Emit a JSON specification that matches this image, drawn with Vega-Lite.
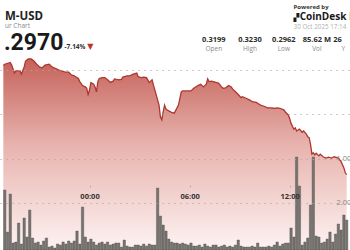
{
  "$schema": "https://vega.github.io/schema/vega-lite/v6.json",
  "width": 350,
  "height": 250,
  "autosize": {"type": "fit", "contains": "padding"},
  "padding": 0,
  "background": "white",
  "config": {"view": {"stroke": null}, "font": "Open Sans", "text": {"font": "Open Sans"}},
  "datasets": {
    "price": [
      {"time": "2025-10-29T18:50:00Z", "price": 0.3210},
      {"time": "2025-10-29T18:55:00Z", "price": 0.3213},
      {"time": "2025-10-29T19:15:00Z", "price": 0.3217},
      {"time": "2025-10-29T19:20:00Z", "price": 0.3211},
      {"time": "2025-10-29T19:30:00Z", "price": 0.3193},
      {"time": "2025-10-29T19:35:00Z", "price": 0.3198},
      {"time": "2025-10-29T19:50:00Z", "price": 0.3198},
      {"time": "2025-10-29T19:55:00Z", "price": 0.3191},
      {"time": "2025-10-29T20:05:00Z", "price": 0.3207},
      {"time": "2025-10-29T20:10:00Z", "price": 0.3220},
      {"time": "2025-10-29T20:20:00Z", "price": 0.3225},
      {"time": "2025-10-29T20:30:00Z", "price": 0.3225},
      {"time": "2025-10-29T20:40:00Z", "price": 0.3220},
      {"time": "2025-10-29T20:50:00Z", "price": 0.3213},
      {"time": "2025-10-29T21:00:00Z", "price": 0.3207},
      {"time": "2025-10-29T21:10:00Z", "price": 0.3205},
      {"time": "2025-10-29T21:20:00Z", "price": 0.3211},
      {"time": "2025-10-29T21:35:00Z", "price": 0.3213},
      {"time": "2025-10-29T21:45:00Z", "price": 0.3207},
      {"time": "2025-10-29T21:55:00Z", "price": 0.3204},
      {"time": "2025-10-29T22:10:00Z", "price": 0.3200},
      {"time": "2025-10-29T22:20:00Z", "price": 0.3198},
      {"time": "2025-10-29T22:30:00Z", "price": 0.3196},
      {"time": "2025-10-29T22:45:00Z", "price": 0.3195},
      {"time": "2025-10-29T22:55:00Z", "price": 0.3189},
      {"time": "2025-10-29T23:05:00Z", "price": 0.3187},
      {"time": "2025-10-29T23:20:00Z", "price": 0.3181},
      {"time": "2025-10-29T23:25:00Z", "price": 0.3174},
      {"time": "2025-10-29T23:35:00Z", "price": 0.3165},
      {"time": "2025-10-29T23:45:00Z", "price": 0.3162},
      {"time": "2025-10-29T23:50:00Z", "price": 0.3159},
      {"time": "2025-10-29T23:55:00Z", "price": 0.3145},
      {"time": "2025-10-30T00:00:00Z", "price": 0.3155},
      {"time": "2025-10-30T00:05:00Z", "price": 0.3172},
      {"time": "2025-10-30T00:15:00Z", "price": 0.3168},
      {"time": "2025-10-30T00:20:00Z", "price": 0.3162},
      {"time": "2025-10-30T00:25:00Z", "price": 0.3151},
      {"time": "2025-10-30T00:30:00Z", "price": 0.3174},
      {"time": "2025-10-30T00:35:00Z", "price": 0.3181},
      {"time": "2025-10-30T00:45:00Z", "price": 0.3183},
      {"time": "2025-10-30T00:55:00Z", "price": 0.3183},
      {"time": "2025-10-30T01:05:00Z", "price": 0.3178},
      {"time": "2025-10-30T01:15:00Z", "price": 0.3172},
      {"time": "2025-10-30T01:25:00Z", "price": 0.3175},
      {"time": "2025-10-30T01:30:00Z", "price": 0.3180},
      {"time": "2025-10-30T01:45:00Z", "price": 0.3178},
      {"time": "2025-10-30T01:55:00Z", "price": 0.3179},
      {"time": "2025-10-30T02:00:00Z", "price": 0.3184},
      {"time": "2025-10-30T02:15:00Z", "price": 0.3187},
      {"time": "2025-10-30T02:25:00Z", "price": 0.3187},
      {"time": "2025-10-30T02:35:00Z", "price": 0.3190},
      {"time": "2025-10-30T02:50:00Z", "price": 0.3193},
      {"time": "2025-10-30T02:55:00Z", "price": 0.3185},
      {"time": "2025-10-30T03:05:00Z", "price": 0.3183},
      {"time": "2025-10-30T03:15:00Z", "price": 0.3184},
      {"time": "2025-10-30T03:25:00Z", "price": 0.3183},
      {"time": "2025-10-30T03:35:00Z", "price": 0.3172},
      {"time": "2025-10-30T03:40:00Z", "price": 0.3175},
      {"time": "2025-10-30T03:45:00Z", "price": 0.3178},
      {"time": "2025-10-30T03:50:00Z", "price": 0.3166},
      {"time": "2025-10-30T04:00:00Z", "price": 0.3144},
      {"time": "2025-10-30T04:10:00Z", "price": 0.3121},
      {"time": "2025-10-30T04:15:00Z", "price": 0.3095},
      {"time": "2025-10-30T04:20:00Z", "price": 0.3088},
      {"time": "2025-10-30T04:25:00Z", "price": 0.3106},
      {"time": "2025-10-30T04:30:00Z", "price": 0.3121},
      {"time": "2025-10-30T04:35:00Z", "price": 0.3112},
      {"time": "2025-10-30T04:45:00Z", "price": 0.3108},
      {"time": "2025-10-30T04:55:00Z", "price": 0.3105},
      {"time": "2025-10-30T05:05:00Z", "price": 0.3103},
      {"time": "2025-10-30T05:20:00Z", "price": 0.3121},
      {"time": "2025-10-30T05:30:00Z", "price": 0.3151},
      {"time": "2025-10-30T05:35:00Z", "price": 0.3153},
      {"time": "2025-10-30T05:55:00Z", "price": 0.3153},
      {"time": "2025-10-30T06:05:00Z", "price": 0.3153},
      {"time": "2025-10-30T06:15:00Z", "price": 0.3159},
      {"time": "2025-10-30T06:30:00Z", "price": 0.3165},
      {"time": "2025-10-30T06:40:00Z", "price": 0.3168},
      {"time": "2025-10-30T06:50:00Z", "price": 0.3162},
      {"time": "2025-10-30T07:00:00Z", "price": 0.3168},
      {"time": "2025-10-30T07:05:00Z", "price": 0.3180},
      {"time": "2025-10-30T07:10:00Z", "price": 0.3174},
      {"time": "2025-10-30T07:20:00Z", "price": 0.3175},
      {"time": "2025-10-30T07:25:00Z", "price": 0.3174},
      {"time": "2025-10-30T07:35:00Z", "price": 0.3172},
      {"time": "2025-10-30T07:45:00Z", "price": 0.3170},
      {"time": "2025-10-30T07:55:00Z", "price": 0.3162},
      {"time": "2025-10-30T08:00:00Z", "price": 0.3159},
      {"time": "2025-10-30T08:10:00Z", "price": 0.3160},
      {"time": "2025-10-30T08:20:00Z", "price": 0.3165},
      {"time": "2025-10-30T08:30:00Z", "price": 0.3162},
      {"time": "2025-10-30T08:35:00Z", "price": 0.3157},
      {"time": "2025-10-30T08:45:00Z", "price": 0.3151},
      {"time": "2025-10-30T08:55:00Z", "price": 0.3145},
      {"time": "2025-10-30T09:05:00Z", "price": 0.3138},
      {"time": "2025-10-30T09:10:00Z", "price": 0.3140},
      {"time": "2025-10-30T09:25:00Z", "price": 0.3136},
      {"time": "2025-10-30T09:35:00Z", "price": 0.3133},
      {"time": "2025-10-30T09:45:00Z", "price": 0.3129},
      {"time": "2025-10-30T10:00:00Z", "price": 0.3127},
      {"time": "2025-10-30T10:10:00Z", "price": 0.3123},
      {"time": "2025-10-30T10:15:00Z", "price": 0.3121},
      {"time": "2025-10-30T10:30:00Z", "price": 0.3118},
      {"time": "2025-10-30T10:40:00Z", "price": 0.3115},
      {"time": "2025-10-30T10:50:00Z", "price": 0.3115},
      {"time": "2025-10-30T11:05:00Z", "price": 0.3114},
      {"time": "2025-10-30T11:15:00Z", "price": 0.3115},
      {"time": "2025-10-30T11:25:00Z", "price": 0.3114},
      {"time": "2025-10-30T11:40:00Z", "price": 0.3110},
      {"time": "2025-10-30T11:45:00Z", "price": 0.3105},
      {"time": "2025-10-30T11:55:00Z", "price": 0.3099},
      {"time": "2025-10-30T12:00:00Z", "price": 0.3091},
      {"time": "2025-10-30T12:05:00Z", "price": 0.3080},
      {"time": "2025-10-30T12:15:00Z", "price": 0.3067},
      {"time": "2025-10-30T12:20:00Z", "price": 0.3070},
      {"time": "2025-10-30T12:25:00Z", "price": 0.3063},
      {"time": "2025-10-30T12:30:00Z", "price": 0.3065},
      {"time": "2025-10-30T12:35:00Z", "price": 0.3067},
      {"time": "2025-10-30T12:45:00Z", "price": 0.3060},
      {"time": "2025-10-30T12:50:00Z", "price": 0.3063},
      {"time": "2025-10-30T13:00:00Z", "price": 0.3056},
      {"time": "2025-10-30T13:05:00Z", "price": 0.3050},
      {"time": "2025-10-30T13:10:00Z", "price": 0.3048},
      {"time": "2025-10-30T13:15:00Z", "price": 0.3033},
      {"time": "2025-10-30T13:20:00Z", "price": 0.3011},
      {"time": "2025-10-30T13:25:00Z", "price": 0.3014},
      {"time": "2025-10-30T13:30:00Z", "price": 0.3009},
      {"time": "2025-10-30T13:35:00Z", "price": 0.3013},
      {"time": "2025-10-30T13:45:00Z", "price": 0.3007},
      {"time": "2025-10-30T13:50:00Z", "price": 0.3011},
      {"time": "2025-10-30T14:00:00Z", "price": 0.3005},
      {"time": "2025-10-30T14:10:00Z", "price": 0.3002},
      {"time": "2025-10-30T14:20:00Z", "price": 0.3004},
      {"time": "2025-10-30T14:30:00Z", "price": 0.3002},
      {"time": "2025-10-30T14:40:00Z", "price": 0.3005},
      {"time": "2025-10-30T14:55:00Z", "price": 0.3002},
      {"time": "2025-10-30T15:05:00Z", "price": 0.2994},
      {"time": "2025-10-30T15:15:00Z", "price": 0.2980},
      {"time": "2025-10-30T15:20:00Z", "price": 0.2969},
      {"time": "2025-10-30T15:25:00Z", "price": 0.2965}
    ],
    "volume": [
      {"time": "2025-10-29T18:55:00Z", "vol": 2400},
      {"time": "2025-10-29T19:05:00Z", "vol": 720},
      {"time": "2025-10-29T19:15:00Z", "vol": 2240},
      {"time": "2025-10-29T19:25:00Z", "vol": 280},
      {"time": "2025-10-29T19:35:00Z", "vol": 320},
      {"time": "2025-10-29T19:45:00Z", "vol": 1080},
      {"time": "2025-10-29T19:55:00Z", "vol": 240},
      {"time": "2025-10-29T20:05:00Z", "vol": 1280},
      {"time": "2025-10-29T20:15:00Z", "vol": 520},
      {"time": "2025-10-29T20:25:00Z", "vol": 1600},
      {"time": "2025-10-29T20:35:00Z", "vol": 480},
      {"time": "2025-10-29T20:45:00Z", "vol": 280},
      {"time": "2025-10-29T20:55:00Z", "vol": 320},
      {"time": "2025-10-29T21:05:00Z", "vol": 200},
      {"time": "2025-10-29T21:15:00Z", "vol": 360},
      {"time": "2025-10-29T21:25:00Z", "vol": 480},
      {"time": "2025-10-29T21:35:00Z", "vol": 120},
      {"time": "2025-10-29T21:45:00Z", "vol": 160},
      {"time": "2025-10-29T21:55:00Z", "vol": 80},
      {"time": "2025-10-29T22:05:00Z", "vol": 240},
      {"time": "2025-10-29T22:15:00Z", "vol": 200},
      {"time": "2025-10-29T22:25:00Z", "vol": 320},
      {"time": "2025-10-29T22:35:00Z", "vol": 240},
      {"time": "2025-10-29T22:45:00Z", "vol": 360},
      {"time": "2025-10-29T22:55:00Z", "vol": 280},
      {"time": "2025-10-29T23:05:00Z", "vol": 360},
      {"time": "2025-10-29T23:15:00Z", "vol": 760},
      {"time": "2025-10-29T23:25:00Z", "vol": 240},
      {"time": "2025-10-29T23:35:00Z", "vol": 1720},
      {"time": "2025-10-29T23:45:00Z", "vol": 520},
      {"time": "2025-10-29T23:55:00Z", "vol": 320},
      {"time": "2025-10-30T00:05:00Z", "vol": 440},
      {"time": "2025-10-30T00:15:00Z", "vol": 320},
      {"time": "2025-10-30T00:25:00Z", "vol": 200},
      {"time": "2025-10-30T00:35:00Z", "vol": 280},
      {"time": "2025-10-30T00:45:00Z", "vol": 320},
      {"time": "2025-10-30T00:55:00Z", "vol": 240},
      {"time": "2025-10-30T01:05:00Z", "vol": 320},
      {"time": "2025-10-30T01:15:00Z", "vol": 200},
      {"time": "2025-10-30T01:25:00Z", "vol": 240},
      {"time": "2025-10-30T01:35:00Z", "vol": 280},
      {"time": "2025-10-30T01:45:00Z", "vol": 280},
      {"time": "2025-10-30T01:55:00Z", "vol": 120},
      {"time": "2025-10-30T02:05:00Z", "vol": 400},
      {"time": "2025-10-30T02:15:00Z", "vol": 160},
      {"time": "2025-10-30T02:25:00Z", "vol": 120},
      {"time": "2025-10-30T02:35:00Z", "vol": 120},
      {"time": "2025-10-30T02:45:00Z", "vol": 200},
      {"time": "2025-10-30T02:55:00Z", "vol": 200},
      {"time": "2025-10-30T03:05:00Z", "vol": 160},
      {"time": "2025-10-30T03:15:00Z", "vol": 240},
      {"time": "2025-10-30T03:25:00Z", "vol": 160},
      {"time": "2025-10-30T03:35:00Z", "vol": 240},
      {"time": "2025-10-30T03:45:00Z", "vol": 200},
      {"time": "2025-10-30T03:55:00Z", "vol": 200},
      {"time": "2025-10-30T04:05:00Z", "vol": 2480},
      {"time": "2025-10-30T04:15:00Z", "vol": 1360},
      {"time": "2025-10-30T04:25:00Z", "vol": 1000},
      {"time": "2025-10-30T04:35:00Z", "vol": 760},
      {"time": "2025-10-30T04:45:00Z", "vol": 440},
      {"time": "2025-10-30T04:55:00Z", "vol": 320},
      {"time": "2025-10-30T05:05:00Z", "vol": 280},
      {"time": "2025-10-30T05:15:00Z", "vol": 280},
      {"time": "2025-10-30T05:25:00Z", "vol": 240},
      {"time": "2025-10-30T05:35:00Z", "vol": 280},
      {"time": "2025-10-30T05:45:00Z", "vol": 240},
      {"time": "2025-10-30T05:55:00Z", "vol": 200},
      {"time": "2025-10-30T06:05:00Z", "vol": 280},
      {"time": "2025-10-30T06:15:00Z", "vol": 160},
      {"time": "2025-10-30T06:25:00Z", "vol": 160},
      {"time": "2025-10-30T06:35:00Z", "vol": 200},
      {"time": "2025-10-30T06:45:00Z", "vol": 120},
      {"time": "2025-10-30T06:55:00Z", "vol": 240},
      {"time": "2025-10-30T07:05:00Z", "vol": 160},
      {"time": "2025-10-30T07:15:00Z", "vol": 120},
      {"time": "2025-10-30T07:25:00Z", "vol": 200},
      {"time": "2025-10-30T07:35:00Z", "vol": 200},
      {"time": "2025-10-30T07:45:00Z", "vol": 120},
      {"time": "2025-10-30T07:55:00Z", "vol": 160},
      {"time": "2025-10-30T08:05:00Z", "vol": 200},
      {"time": "2025-10-30T08:15:00Z", "vol": 120},
      {"time": "2025-10-30T08:25:00Z", "vol": 160},
      {"time": "2025-10-30T08:35:00Z", "vol": 120},
      {"time": "2025-10-30T08:45:00Z", "vol": 200},
      {"time": "2025-10-30T08:55:00Z", "vol": 400},
      {"time": "2025-10-30T09:05:00Z", "vol": 160},
      {"time": "2025-10-30T09:15:00Z", "vol": 120},
      {"time": "2025-10-30T09:25:00Z", "vol": 120},
      {"time": "2025-10-30T09:35:00Z", "vol": 120},
      {"time": "2025-10-30T09:45:00Z", "vol": 160},
      {"time": "2025-10-30T09:55:00Z", "vol": 120},
      {"time": "2025-10-30T10:05:00Z", "vol": 280},
      {"time": "2025-10-30T10:15:00Z", "vol": 120},
      {"time": "2025-10-30T10:25:00Z", "vol": 120},
      {"time": "2025-10-30T10:35:00Z", "vol": 120},
      {"time": "2025-10-30T10:45:00Z", "vol": 160},
      {"time": "2025-10-30T10:55:00Z", "vol": 120},
      {"time": "2025-10-30T11:05:00Z", "vol": 200},
      {"time": "2025-10-30T11:15:00Z", "vol": 320},
      {"time": "2025-10-30T11:25:00Z", "vol": 160},
      {"time": "2025-10-30T11:35:00Z", "vol": 240},
      {"time": "2025-10-30T11:45:00Z", "vol": 280},
      {"time": "2025-10-30T11:55:00Z", "vol": 280},
      {"time": "2025-10-30T12:05:00Z", "vol": 880},
      {"time": "2025-10-30T12:15:00Z", "vol": 520},
      {"time": "2025-10-30T12:25:00Z", "vol": 3720},
      {"time": "2025-10-30T12:35:00Z", "vol": 2560},
      {"time": "2025-10-30T12:45:00Z", "vol": 200},
      {"time": "2025-10-30T12:55:00Z", "vol": 320},
      {"time": "2025-10-30T13:05:00Z", "vol": 480},
      {"time": "2025-10-30T13:15:00Z", "vol": 1800},
      {"time": "2025-10-30T13:25:00Z", "vol": 3720},
      {"time": "2025-10-30T13:35:00Z", "vol": 560},
      {"time": "2025-10-30T13:45:00Z", "vol": 520},
      {"time": "2025-10-30T13:55:00Z", "vol": 280},
      {"time": "2025-10-30T14:05:00Z", "vol": 320},
      {"time": "2025-10-30T14:15:00Z", "vol": 440},
      {"time": "2025-10-30T14:25:00Z", "vol": 720},
      {"time": "2025-10-30T14:35:00Z", "vol": 320},
      {"time": "2025-10-30T14:45:00Z", "vol": 640},
      {"time": "2025-10-30T14:55:00Z", "vol": 1040},
      {"time": "2025-10-30T15:05:00Z", "vol": 800},
      {"time": "2025-10-30T15:15:00Z", "vol": 1400},
      {"time": "2025-10-30T15:25:00Z", "vol": 1200}
    ]
  },
  "layer": [
    {
      "layer": [
        {
          "data": {"name": "price"},
          "mark": {
            "type": "area",
            "clip": true,
            "color": {
              "gradient": "linear",
              "x1": 0, "y1": 0, "x2": 0, "y2": 1,
              "stops": [
                {"offset": 0, "color": "#c5625a"},
                {"offset": 0.45, "color": "#e8b3ae"},
                {"offset": 1, "color": "#fdf3f2"}
              ]
            }
          },
          "encoding": {
            "x": {
              "field": "time",
              "type": "temporal",
              "scale": {
                "type": "utc",
                "nice": false,
                "domain": [
                  {"year": 2025, "month": 10, "date": 29, "hours": 18, "minutes": 56, "utc": true},
                  {"year": 2025, "month": 10, "date": 30, "hours": 15, "minutes": 19, "utc": true}
                ]
              },
              "axis": {
                "title": null,
                "orient": "bottom",
                "offset": -65,
                "zindex": 2,
                "domain": false,
                "grid": false,
                "tickSize": 2,
                "tickColor": "#b3a9a8",
                "labelFontSize": 7.5,
                "labelFontWeight": "bold",
                "labelColor": "#333333",
                "labelPadding": 5,
                "labelFlush": false,
                "labelOverlap": false,
                "format": "%H:%M",
                "values": [
                  {"year": 2025, "month": 10, "date": 30, "hours": 0, "minutes": 0, "utc": true},
                  {"year": 2025, "month": 10, "date": 30, "hours": 6, "minutes": 0, "utc": true},
                  {"year": 2025, "month": 10, "date": 30, "hours": 12, "minutes": 0, "utc": true}
                ]
              }
            },
            "y": {
              "field": "price",
              "type": "quantitative",
              "scale": {"domain": [0.27955, 0.33573], "zero": false, "nice": false},
              "axis": {
                "title": null,
                "labels": false,
                "ticks": false,
                "domain": false,
                "grid": true,
                "gridDash": [1.2, 4.8],
                "gridColor": "#b0a6a4",
                "gridWidth": 1,
                "values": [0.29, 0.30, 0.31, 0.32],
                "zindex": 1
              }
            },
            "y2": {"datum": 0.27955}
          }
        },
        {
          "data": {"name": "price"},
          "mark": {"type": "line", "clip": true, "color": "#ad372f", "strokeWidth": 1.3},
          "encoding": {
            "x": {"field": "time", "type": "temporal"},
            "y": {"field": "price", "type": "quantitative"}
          }
        },
        {
          "data": {"values": [{"label": "1.00", "level": 0.30}, {"label": "2.00", "level": 0.29}]},
          "mark": {"type": "text", "clip": true, "align": "left", "baseline": "middle", "fontSize": 7.5, "color": "#8a8a8a"},
          "encoding": {
            "text": {"field": "label"},
            "y": {"field": "level", "type": "quantitative"},
            "x": {"datum": {"year": 2025, "month": 10, "date": 30, "hours": 14, "minutes": 48, "utc": true}, "type": "temporal"}
          }
        },
        {
          "data": {"values": [{"t": "M-USD"}]},
          "mark": {"type": "text", "clip": true, "align": "left", "baseline": "alphabetic", "fontSize": 11.5, "fontWeight": "bold", "color": "#222222"},
          "encoding": {
            "text": {"field": "t"},
            "x": {"datum": {"year": 2025, "month": 10, "date": 29, "hours": 18, "minutes": 56, "utc": true}, "type": "temporal"},
            "y": {"datum": 0.33124, "type": "quantitative"}
          }
        },
        {
          "data": {"values": [{"t": "ur Chart"}]},
          "mark": {"type": "text", "clip": true, "align": "left", "baseline": "alphabetic", "fontSize": 6.5, "color": "#888888"},
          "encoding": {
            "text": {"field": "t"},
            "x": {"datum": {"year": 2025, "month": 10, "date": 29, "hours": 18, "minutes": 56, "utc": true}, "type": "temporal"},
            "y": {"datum": 0.32944, "type": "quantitative"}
          }
        },
        {
          "data": {"values": [{"t": ".2970"}]},
          "mark": {"type": "text", "clip": true, "align": "left", "baseline": "alphabetic", "fontSize": 23, "fontWeight": "bold", "font": "Roboto", "color": "#1a1a1a"},
          "encoding": {
            "text": {"field": "t"},
            "x": {"datum": {"year": 2025, "month": 10, "date": 29, "hours": 18, "minutes": 52, "utc": true}, "type": "temporal"},
            "y": {"datum": 0.32449, "type": "quantitative"}
          }
        },
        {
          "data": {"values": [{"t": "-7.14%"}]},
          "mark": {"type": "text", "clip": true, "align": "left", "baseline": "alphabetic", "fontSize": 6.5, "fontWeight": "bold", "color": "#333333"},
          "encoding": {
            "text": {"field": "t"},
            "x": {"datum": {"year": 2025, "month": 10, "date": 29, "hours": 22, "minutes": 30, "utc": true}, "type": "temporal"},
            "y": {"datum": 0.32472, "type": "quantitative"}
          }
        },
        {
          "data": {"values": [{"t": "▼"}]},
          "mark": {"type": "text", "clip": true, "align": "center", "baseline": "middle", "fontSize": 8, "font": "DejaVu Sans", "color": "#c0302a"},
          "encoding": {
            "text": {"field": "t"},
            "x": {"datum": {"year": 2025, "month": 10, "date": 30, "hours": 0, "minutes": 3, "utc": true}, "type": "temporal"},
            "y": {"datum": 0.32517, "type": "quantitative"}
          }
        },
        {
          "data": {"values": [{"t": "Powered by"}]},
          "mark": {"type": "text", "clip": true, "align": "left", "baseline": "alphabetic", "fontSize": 6, "fontWeight": "bold", "color": "#333333"},
          "encoding": {
            "text": {"field": "t"},
            "x": {"datum": {"year": 2025, "month": 10, "date": 30, "hours": 12, "minutes": 14, "utc": true}, "type": "temporal"},
            "y": {"datum": 0.33371, "type": "quantitative"}
          }
        },
        {
          "data": {"values": [{"t": "▞"}]},
          "mark": {"type": "text", "clip": true, "align": "left", "baseline": "alphabetic", "fontSize": 7.5, "font": "DejaVu Sans", "color": "#1a1a1a"},
          "encoding": {
            "text": {"field": "t"},
            "x": {"datum": {"year": 2025, "month": 10, "date": 30, "hours": 12, "minutes": 14, "utc": true}, "type": "temporal"},
            "y": {"datum": 0.33124, "type": "quantitative"}
          }
        },
        {
          "data": {"values": [{"t": "CoinDesk I"}]},
          "mark": {"type": "text", "clip": true, "align": "left", "baseline": "alphabetic", "fontSize": 10, "fontWeight": "bold", "color": "#1a1a1a"},
          "encoding": {
            "text": {"field": "t"},
            "x": {"datum": {"year": 2025, "month": 10, "date": 30, "hours": 12, "minutes": 36, "utc": true}, "type": "temporal"},
            "y": {"datum": 0.33124, "type": "quantitative"}
          }
        },
        {
          "data": {"values": [{"t": "30 Oct 2025 17:14"}]},
          "mark": {"type": "text", "clip": true, "align": "left", "baseline": "alphabetic", "fontSize": 6.3, "color": "#b0b0b0"},
          "encoding": {
            "text": {"field": "t"},
            "x": {"datum": {"year": 2025, "month": 10, "date": 30, "hours": 12, "minutes": 14, "utc": true}, "type": "temporal"},
            "y": {"datum": 0.32921, "type": "quantitative"}
          }
        },
        {
          "data": {"values": [{"value": "0.3199", "label": "Open"}]},
          "encoding": {
            "x": {"datum": {"year": 2025, "month": 10, "date": 30, "hours": 7, "minutes": 27, "utc": true}, "type": "temporal"}
          },
          "layer": [
            {"mark": {"type": "text", "clip": true, "align": "center", "baseline": "alphabetic", "fontSize": 7.5, "fontWeight": "bold", "color": "#2a2a2a"},
             "encoding": {"text": {"field": "value"}, "y": {"datum": 0.32629, "type": "quantitative"}}},
            {"mark": {"type": "text", "clip": true, "align": "center", "baseline": "alphabetic", "fontSize": 6.5, "color": "#8a8a8a"},
             "encoding": {"text": {"field": "label"}, "y": {"datum": 0.32427, "type": "quantitative"}}}
          ]
        },
        {
          "data": {"values": [{"value": "0.3230", "label": "High"}]},
          "encoding": {
            "x": {"datum": {"year": 2025, "month": 10, "date": 30, "hours": 9, "minutes": 37, "utc": true}, "type": "temporal"}
          },
          "layer": [
            {"mark": {"type": "text", "clip": true, "align": "center", "baseline": "alphabetic", "fontSize": 7.5, "fontWeight": "bold", "color": "#2a2a2a"},
             "encoding": {"text": {"field": "value"}, "y": {"datum": 0.32629, "type": "quantitative"}}},
            {"mark": {"type": "text", "clip": true, "align": "center", "baseline": "alphabetic", "fontSize": 6.5, "color": "#8a8a8a"},
             "encoding": {"text": {"field": "label"}, "y": {"datum": 0.32427, "type": "quantitative"}}}
          ]
        },
        {
          "data": {"values": [{"value": "0.2962", "label": "Low"}]},
          "encoding": {
            "x": {"datum": {"year": 2025, "month": 10, "date": 30, "hours": 11, "minutes": 39, "utc": true}, "type": "temporal"}
          },
          "layer": [
            {"mark": {"type": "text", "clip": true, "align": "center", "baseline": "alphabetic", "fontSize": 7.5, "fontWeight": "bold", "color": "#2a2a2a"},
             "encoding": {"text": {"field": "value"}, "y": {"datum": 0.32629, "type": "quantitative"}}},
            {"mark": {"type": "text", "clip": true, "align": "center", "baseline": "alphabetic", "fontSize": 6.5, "color": "#8a8a8a"},
             "encoding": {"text": {"field": "label"}, "y": {"datum": 0.32427, "type": "quantitative"}}}
          ]
        },
        {
          "data": {"values": [{"value": "85.62 M", "label": "Vol"}]},
          "encoding": {
            "x": {"datum": {"year": 2025, "month": 10, "date": 30, "hours": 13, "minutes": 38, "utc": true}, "type": "temporal"}
          },
          "layer": [
            {"mark": {"type": "text", "clip": true, "align": "center", "baseline": "alphabetic", "fontSize": 7.5, "fontWeight": "bold", "color": "#2a2a2a"},
             "encoding": {"text": {"field": "value"}, "y": {"datum": 0.32629, "type": "quantitative"}}},
            {"mark": {"type": "text", "clip": true, "align": "center", "baseline": "alphabetic", "fontSize": 6.5, "color": "#8a8a8a"},
             "encoding": {"text": {"field": "label"}, "y": {"datum": 0.32427, "type": "quantitative"}}}
          ]
        },
        {
          "data": {"values": [{"value": "26"}]},
          "mark": {"type": "text", "clip": true, "align": "left", "baseline": "alphabetic", "fontSize": 7.5, "fontWeight": "bold", "color": "#2a2a2a"},
          "encoding": {
            "text": {"field": "value"},
            "x": {"datum": {"year": 2025, "month": 10, "date": 30, "hours": 14, "minutes": 37, "utc": true}, "type": "temporal"},
            "y": {"datum": 0.32629, "type": "quantitative"}
          }
        },
        {
          "data": {"values": [{"label": "Y"}]},
          "mark": {"type": "text", "clip": true, "align": "left", "baseline": "alphabetic", "fontSize": 6.5, "color": "#8a8a8a"},
          "encoding": {
            "text": {"field": "label"},
            "x": {"datum": {"year": 2025, "month": 10, "date": 30, "hours": 15, "minutes": 6, "utc": true}, "type": "temporal"},
            "y": {"datum": 0.32427, "type": "quantitative"}
          }
        }
      ]
    },
    {
      "data": {"name": "volume"},
      "mark": {"type": "bar", "clip": true, "size": 2.4, "color": "#75736f", "stroke": "#55524e", "strokeWidth": 0.4},
      "encoding": {
        "x": {"field": "time", "type": "temporal"},
        "y": {"field": "vol", "type": "quantitative", "scale": {"domain": [0, 10000], "nice": false}, "axis": null}
      }
    }
  ],
  "resolve": {"scale": {"y": "independent"}}
}
